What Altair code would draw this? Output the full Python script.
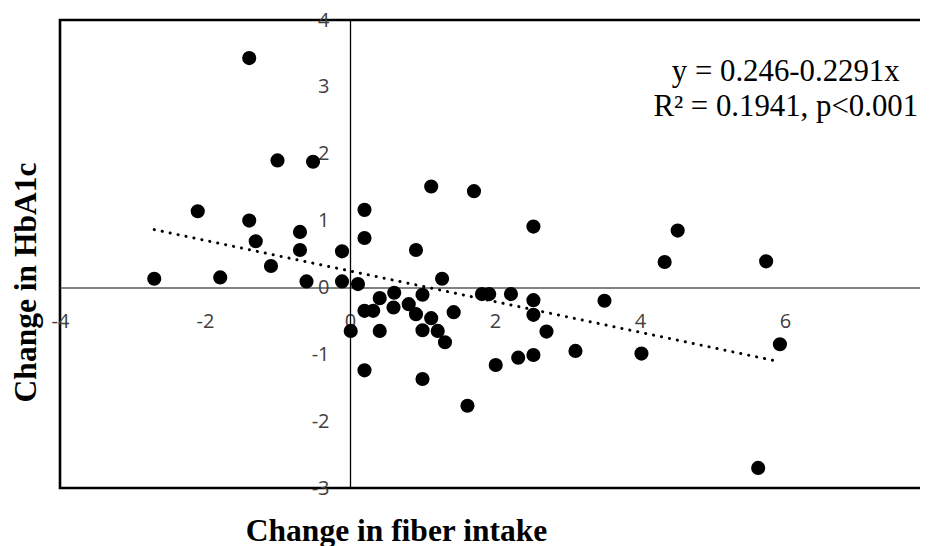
import altair as alt
import pandas as pd

# ---- data ----
fiber = [-1.39, -1.00, -0.51, -2.10, -1.39, -0.69, -1.30, -0.69, -0.11, -1.09,
         -2.70, -1.79, -0.60, -0.11, 0.11, 1.12, 1.71, 0.20, 0.20, 0.91,
         1.27, 0.61, 0.41, 1.00, 0.20, 0.32, 0.60, 0.81, 0.91, 1.12,
         1.00, 1.21, 1.31, 1.43, 0.41, 0.01, 0.20, 1.00, 1.82, 1.92,
         2.22, 2.53, 2.01, 2.32, 1.62, 2.53, 2.53, 2.71, 3.51, 3.11,
         4.02, 2.53, 4.52, 4.34, 5.74, 5.93, 5.63]
hba1c = [3.43, 1.90, 1.88, 1.14, 1.00, 0.83, 0.69, 0.56, 0.54, 0.32,
         0.13, 0.15, 0.09, 0.09, 0.05, 1.51, 1.44, 1.16, 0.74, 0.56,
         0.13, -0.08, -0.16, -0.11, -0.35, -0.35, -0.30, -0.25, -0.40, -0.46,
         -0.64, -0.65, -0.82, -0.37, -0.65, -0.65, -1.24, -1.37, -0.10, -0.10,
         -0.10, 0.91, -1.16, -1.05, -1.77, -0.19, -0.41, -0.66, -0.20, -0.95,
         -0.99, -1.01, 0.85, 0.38, 0.39, -0.85, -2.70]
x_ticks = [-4, -2, 0, 2, 4, 6, 8]
y_ticks = [-3, -2, -1, 0, 1, 2, 3, 4]
intercept = 0.246
slope = -0.2291
eq_lines = ["y = 0.246-0.2291x", "R\u00b2 = 0.1941, p<0.001"]
x_title = "Change in fiber intake"
y_title = "Change in HbA1c"

# ---- layout ----
W, H = 870, 468
x_dom = [-4, 8]
y_dom = [-3, 4]
x_off = -W * (0 - x_dom[0]) / (x_dom[1] - x_dom[0])   # move y axis to x = 0
y_off = -H * (0 - y_dom[0]) / (y_dom[1] - y_dom[0])   # move x axis to y = 0

points = pd.DataFrame({"fiber": fiber, "hba1c": hba1c})
fit = pd.DataFrame({"fiber": [min(fiber), max(fiber)]})
fit["hba1c"] = intercept + slope * fit["fiber"]

label_font = "Open Sans"
title_font = "Liberation Serif"

xs = alt.Scale(domain=x_dom, nice=False, zero=False)
ys = alt.Scale(domain=y_dom, nice=False, zero=False)

x_axis = alt.Axis(values=x_ticks, offset=y_off, ticks=False, tickSize=0, grid=False,
                  domainColor="#595959", domainWidth=1.6,
                  labelFont=label_font, labelFontSize=20, labelColor="#404040",
                  labelPadding=24, labelFlush=False, labelExpr="toString(datum.value)",
                  title=x_title, titleFont=title_font, titleFontSize=31.5,
                  titleFontWeight="bold", titleColor="black",
                  titleX=336, titleY=253, titleAlign="center", titleBaseline="alphabetic")
y_axis = alt.Axis(values=y_ticks, offset=x_off, ticks=False, tickSize=0, grid=False,
                  domainColor="black", domainWidth=1.3,
                  labelFont=label_font, labelFontSize=20, labelColor="#404040",
                  labelPadding=21, labelFlush=False, labelExpr="toString(datum.value)",
                  title=y_title, titleFont=title_font, titleFontSize=31.5,
                  titleFontWeight="bold", titleColor="black", titleAngle=270,
                  titleX=35 - 60 + x_off, titleY=262, titleAlign="center",
                  titleBaseline="alphabetic")

base = alt.Chart(points)

dots = base.mark_circle(size=200, color="black", opacity=1).encode(
    x=alt.X("fiber:Q", scale=xs, axis=x_axis),
    y=alt.Y("hba1c:Q", scale=ys, axis=y_axis),
)

line = alt.Chart(fit).mark_line(color="black", strokeWidth=3, strokeDash=[0.1, 8],
                                strokeCap="round").encode(
    x=alt.X("fiber:Q", scale=xs),
    y=alt.Y("hba1c:Q", scale=ys),
)

ann = alt.Chart(pd.DataFrame({"t": ["\n".join(eq_lines)]})).mark_text(
    font=title_font, fontSize=30.8, color="black", align="center",
    baseline="alphabetic", lineBreak="\n", lineHeight=35
).encode(
    x=alt.datum(6.01, scale=xs),
    y=alt.datum(3.09, scale=ys),
    text="t:N",
)

chart = alt.layer(line, dots, ann).properties(
    width=W, height=H,
    background="white",
    autosize=alt.AutoSizeParams(type="none"),
    padding={"left": 52, "top": 12, "right": -10, "bottom": 64},
).configure_view(stroke="black", strokeWidth=2.6)

chart.save("out.html", embed_options={"renderer": "svg", "actions": False})
